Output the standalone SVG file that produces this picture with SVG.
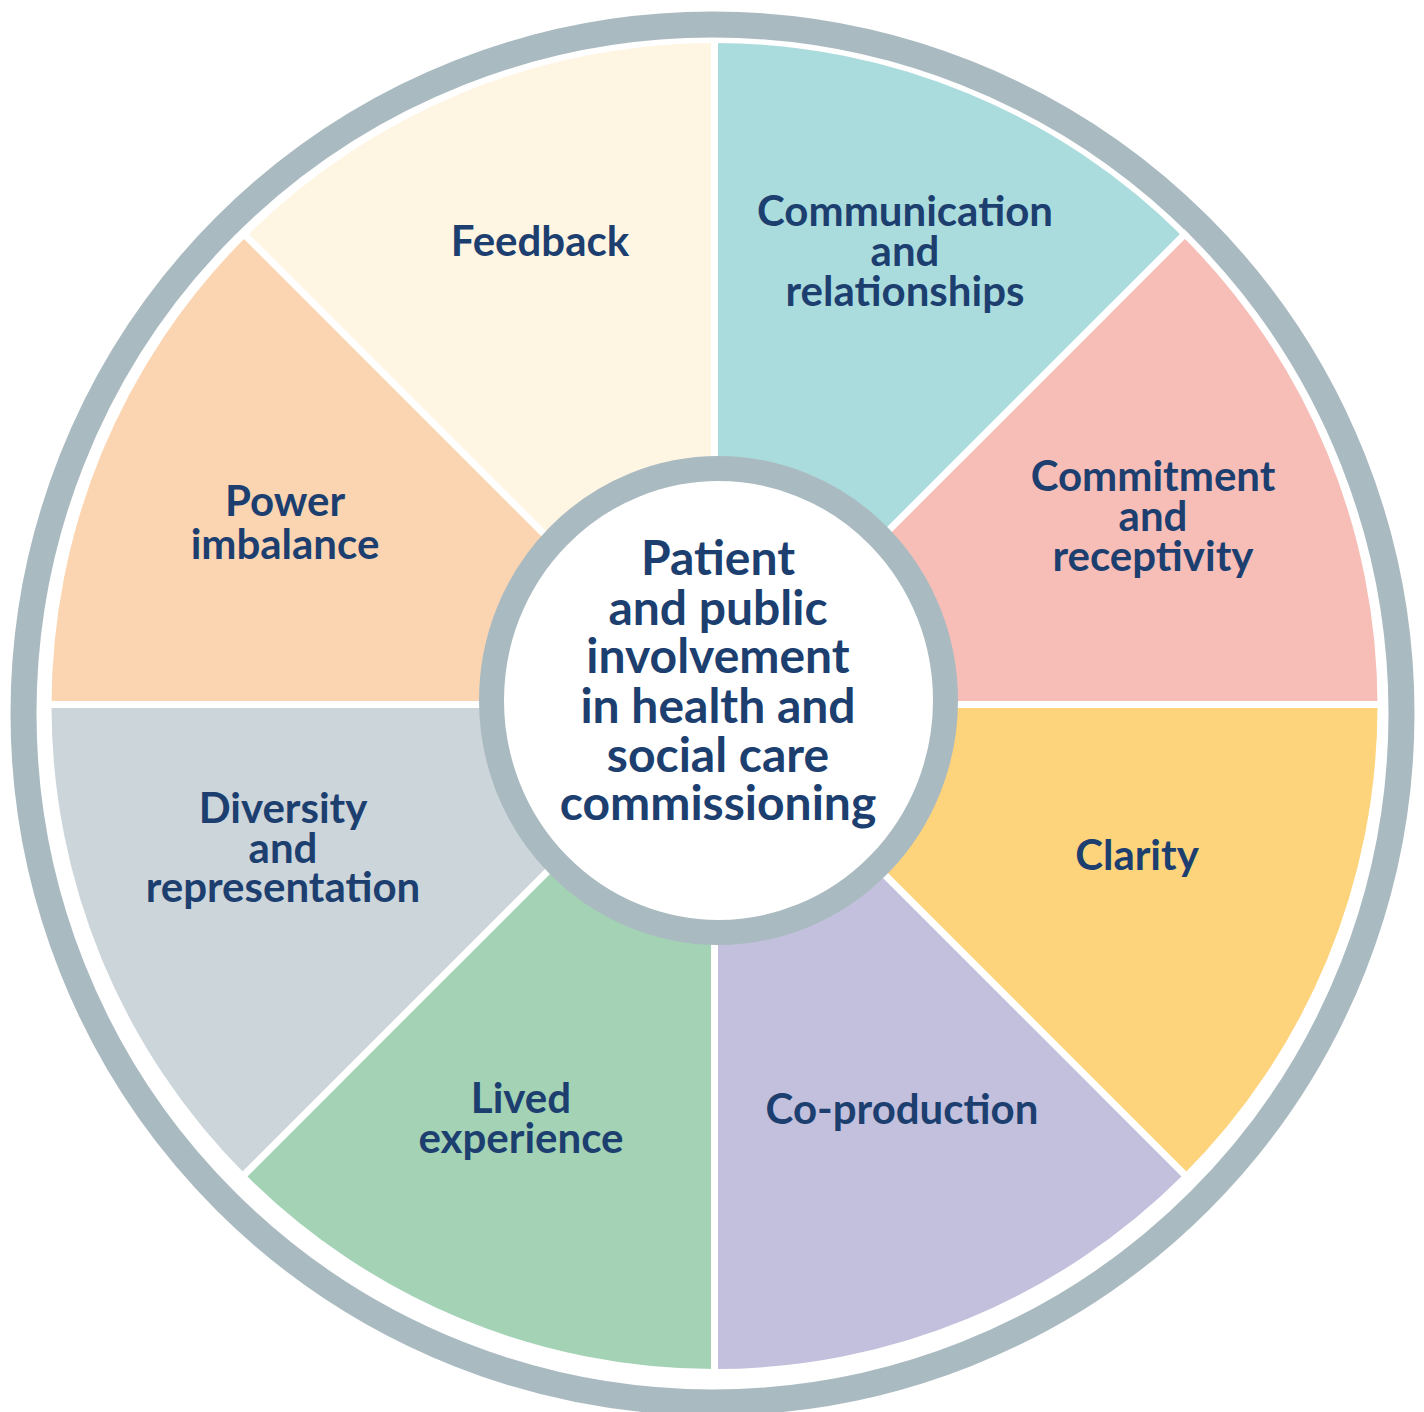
<svg xmlns="http://www.w3.org/2000/svg" width="1424" height="1412" viewBox="0 0 1424 1412">
<style>
text{font-family:Lato,"Noto Sans","Liberation Sans",sans-serif;font-weight:700;fill:#1C3F70;text-anchor:middle}
.lbl{font-size:42px}
.ctr{font-size:48px}
.sep{stroke:#FFFFFF;stroke-width:7;fill:none}
</style>
<rect width="1424" height="1412" fill="#FFFFFF"/>
<circle id="outer-ring" cx="712.5" cy="713.5" r="689" fill="none" stroke="#AABAC1" stroke-width="26"/>
<g id="feedback">
<path d="M714.5 706 L245.7 237.2 A663 663 0 0 1 714.5 43 Z" fill="#FFF5E3"/>
<text class="lbl" x="540" y="256">Feedback</text>
</g>
<g id="communication">
<path d="M714.5 706 L714.5 43 A663 663 0 0 1 1183.3 237.2 Z" fill="#ABDCDD"/>
<text class="lbl" x="905" y="226">Communication</text>
<text class="lbl" x="905" y="266">and</text>
<text class="lbl" x="905" y="306">relationships</text>
</g>
<g id="commitment">
<path d="M714.5 706 L1183.3 237.2 A663 663 0 0 1 1377.5 706 Z" fill="#F6BEB7"/>
<text class="lbl" x="1153" y="491">Commitment</text>
<text class="lbl" x="1153" y="531">and</text>
<text class="lbl" x="1153" y="571">receptivity</text>
</g>
<g id="clarity">
<path d="M714.5 706 L1377.5 706 A663 663 0 0 1 1183.3 1174.8 Z" fill="#FDD47B"/>
<text class="lbl" x="1137" y="870">Clarity</text>
</g>
<g id="co-production">
<path d="M714.5 706 L1183.3 1174.8 A663 663 0 0 1 714.5 1369 Z" fill="#C2C0DD"/>
<text class="lbl" x="902" y="1124">Co-production</text>
</g>
<g id="lived-experience">
<path d="M714.5 706 L714.5 1369 A663 663 0 0 1 245.7 1174.8 Z" fill="#A3D2B5"/>
<text class="lbl" x="521" y="1113">Lived</text>
<text class="lbl" x="521" y="1153">experience</text>
</g>
<g id="diversity">
<path d="M714.5 706 L245.7 1174.8 A663 663 0 0 1 51.5 706 Z" fill="#CCD5DA"/>
<text class="lbl" x="283" y="823">Diversity</text>
<text class="lbl" x="283" y="863">and</text>
<text class="lbl" x="283" y="902">representation</text>
</g>
<g id="power-imbalance">
<path d="M714.5 706 L51.5 706 A663 663 0 0 1 245.7 237.2 Z" fill="#FBD5B1"/>
<text class="lbl" x="285" y="516">Power</text>
<text class="lbl" x="285" y="559">imbalance</text>
</g>
<g id="separators">
<line class="sep" x1="714.5" y1="38" x2="714.5" y2="1374"/>
<line class="sep" x1="46" y1="704.5" x2="1383" y2="704.5"/>
<line class="sep" x1="242" y1="232" x2="1187" y2="1177"/>
<line class="sep" x1="1187" y1="232" x2="242" y2="1177"/>
</g>
<g id="center">
<ellipse cx="718.5" cy="700.5" rx="227" ry="232" fill="#FFFFFF" stroke="#AABAC1" stroke-width="25"/>
<text class="ctr" x="718" y="575">Patient</text>
<text class="ctr" x="718" y="625">and public</text>
<text class="ctr" x="718" y="673">involvement</text>
<text class="ctr" x="718" y="723">in health and</text>
<text class="ctr" x="718" y="772">social care</text>
<text class="ctr" x="718" y="820">commissioning</text>
</g>
</svg>
